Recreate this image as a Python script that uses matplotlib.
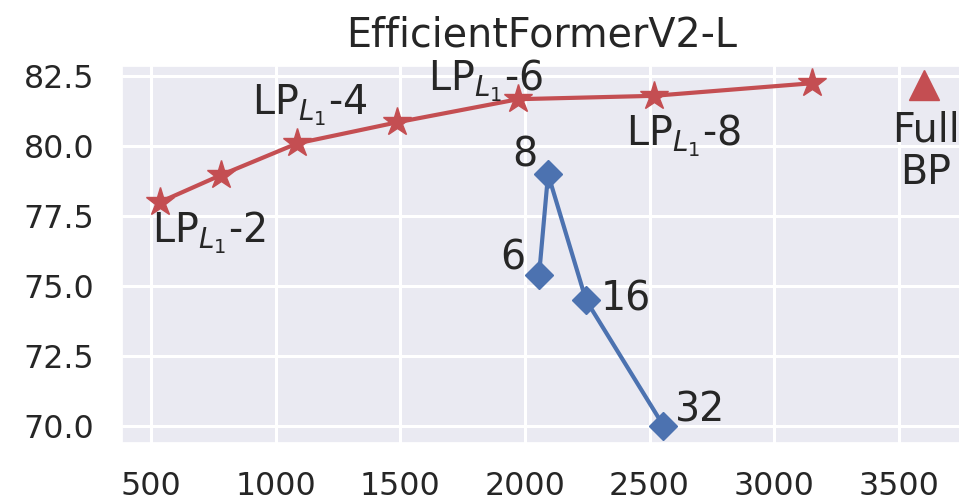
import numpy as np
import seaborn as sns
from matplotlib import pyplot as plt

# LP_L1 sweep (red stars)
lp_x = [536, 779, 1087, 1486, 1973, 2516, 3151]
lp_y = [78.0, 78.96, 80.1, 80.85, 81.68, 81.8, 82.25]
lp_labels = {0: "LP$_{L_1}$-2", 2: "LP$_{L_1}$-4", 4: "LP$_{L_1}$-6", 5: "LP$_{L_1}$-8"}

# bit-width sweep (blue diamonds)
bit_x = [2057, 2093, 2245, 2556]
bit_y = [75.4, 79.0, 74.5, 70.0]
bit_labels = ["6", "8", "16", "32"]

# full backprop reference point
full_x = [3600]
full_y = [82.2]

sns.set_theme(style="darkgrid")
plt.rcParams["font.family"] = ["DejaVu Sans"]

RED = "#C44E52"
BLUE = "#4C72B0"
TXT = "#262626"

fig = plt.figure(figsize=(9.59, 5.01), dpi=100)
ax = fig.add_axes([0.127, 0.116, 0.876, 0.752])

ax.plot(lp_x, lp_y, color=RED, lw=3, marker="*", ms=21, mec=RED)
ax.plot(bit_x, bit_y, color=BLUE, lw=3, marker="D", ms=14, mec=BLUE)
ax.plot(full_x, full_y, color=RED, ls="none", marker="^", ms=22)

# text offsets in pixels from each mark
lp_offsets = {0: (49, -31), 2: (12, 38), 4: (-33, 18), 5: (30, -40)}
for i, txt in lp_labels.items():
    ax.annotate(txt, (lp_x[i], lp_y[i]), xytext=lp_offsets[i], textcoords="offset pixels",
                ha="center", va="center", fontsize=28.5, color=TXT)

bit_offsets = [(-26, 16), (-23, 19), (40, 0), (37, 15)]
for x, y, txt, off in zip(bit_x, bit_y, bit_labels, bit_offsets):
    ax.annotate(txt, (x, y), xytext=off, textcoords="offset pixels",
                ha="center", va="center", fontsize=28.5, color=TXT)

ax.annotate("Full\nBP", (full_x[0], full_y[0]), xytext=(2, -67), textcoords="offset pixels",
            ha="center", va="center", fontsize=28.5, color=TXT, linespacing=1.1)

ax.set_xticks([500, 1000, 1500, 2000, 2500, 3000, 3500])
ax.set_yticks([70.0, 72.5, 75.0, 77.5, 80.0, 82.5])
ax.tick_params(axis="both", labelsize=22.8, pad=20, length=0, labelcolor=TXT)
ax.grid(True, color="white", lw=2.2)
ax.set_title("EfficientFormerV2-L", fontsize=28.5, color=TXT, pad=14)

fig.savefig("out.png", dpi=100)
